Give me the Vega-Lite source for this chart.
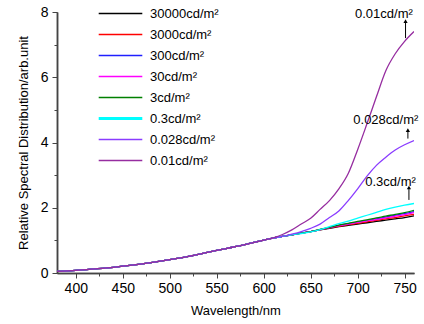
{
  "$schema": "https://vega.github.io/schema/vega-lite/v6.json",
  "width": 357,
  "height": 261,
  "autosize": {"type": "none"},
  "padding": {"left": 57, "top": 12, "right": 10, "bottom": 51},
  "config": {
    "view": {"stroke": null},
    "font": "Liberation Sans",
    "axis": {"domainColor": "#444", "tickColor": "#444", "labelColor": "#000", "titleColor": "#000", "grid": false, "labelFontWeight": "normal", "titleFontWeight": "normal"}
  },
  "datasets": {
    "curves": [
      {"s":"30000cd/m²","w":380,"v":0.05},{"s":"30000cd/m²","w":400,"v":0.08},{"s":"30000cd/m²","w":420,"v":0.125},{"s":"30000cd/m²","w":440,"v":0.175},{"s":"30000cd/m²","w":460,"v":0.24},{"s":"30000cd/m²","w":480,"v":0.32},{"s":"30000cd/m²","w":500,"v":0.41},{"s":"30000cd/m²","w":520,"v":0.51},{"s":"30000cd/m²","w":540,"v":0.63},{"s":"30000cd/m²","w":560,"v":0.75},{"s":"30000cd/m²","w":580,"v":0.87},{"s":"30000cd/m²","w":600,"v":1.01},{"s":"30000cd/m²","w":610,"v":1.07},{"s":"30000cd/m²","w":620,"v":1.12},{"s":"30000cd/m²","w":630,"v":1.17},{"s":"30000cd/m²","w":640,"v":1.22},{"s":"30000cd/m²","w":650,"v":1.27},{"s":"30000cd/m²","w":660,"v":1.32},{"s":"30000cd/m²","w":670,"v":1.37},{"s":"30000cd/m²","w":680,"v":1.42},{"s":"30000cd/m²","w":690,"v":1.46},{"s":"30000cd/m²","w":700,"v":1.5},{"s":"30000cd/m²","w":710,"v":1.54},{"s":"30000cd/m²","w":720,"v":1.58},{"s":"30000cd/m²","w":730,"v":1.62},{"s":"30000cd/m²","w":740,"v":1.66},{"s":"30000cd/m²","w":750,"v":1.7},{"s":"30000cd/m²","w":760,"v":1.75},

      {"s":"3000cd/m²","w":380,"v":0.05},{"s":"3000cd/m²","w":400,"v":0.08},{"s":"3000cd/m²","w":420,"v":0.125},{"s":"3000cd/m²","w":440,"v":0.175},{"s":"3000cd/m²","w":460,"v":0.24},{"s":"3000cd/m²","w":480,"v":0.32},{"s":"3000cd/m²","w":500,"v":0.41},{"s":"3000cd/m²","w":520,"v":0.51},{"s":"3000cd/m²","w":540,"v":0.63},{"s":"3000cd/m²","w":560,"v":0.75},{"s":"3000cd/m²","w":580,"v":0.87},{"s":"3000cd/m²","w":600,"v":1.01},{"s":"3000cd/m²","w":610,"v":1.07},{"s":"3000cd/m²","w":620,"v":1.12},{"s":"3000cd/m²","w":630,"v":1.17},{"s":"3000cd/m²","w":640,"v":1.22},{"s":"3000cd/m²","w":650,"v":1.27},{"s":"3000cd/m²","w":660,"v":1.32},{"s":"3000cd/m²","w":670,"v":1.38},{"s":"3000cd/m²","w":680,"v":1.43},{"s":"3000cd/m²","w":690,"v":1.48},{"s":"3000cd/m²","w":700,"v":1.52},{"s":"3000cd/m²","w":710,"v":1.57},{"s":"3000cd/m²","w":720,"v":1.61},{"s":"3000cd/m²","w":730,"v":1.66},{"s":"3000cd/m²","w":740,"v":1.7},{"s":"3000cd/m²","w":750,"v":1.75},{"s":"3000cd/m²","w":760,"v":1.8},

      {"s":"300cd/m²","w":380,"v":0.05},{"s":"300cd/m²","w":400,"v":0.08},{"s":"300cd/m²","w":420,"v":0.125},{"s":"300cd/m²","w":440,"v":0.175},{"s":"300cd/m²","w":460,"v":0.24},{"s":"300cd/m²","w":480,"v":0.32},{"s":"300cd/m²","w":500,"v":0.41},{"s":"300cd/m²","w":520,"v":0.51},{"s":"300cd/m²","w":540,"v":0.63},{"s":"300cd/m²","w":560,"v":0.75},{"s":"300cd/m²","w":580,"v":0.87},{"s":"300cd/m²","w":600,"v":1.01},{"s":"300cd/m²","w":610,"v":1.07},{"s":"300cd/m²","w":620,"v":1.12},{"s":"300cd/m²","w":630,"v":1.17},{"s":"300cd/m²","w":640,"v":1.22},{"s":"300cd/m²","w":650,"v":1.27},{"s":"300cd/m²","w":660,"v":1.33},{"s":"300cd/m²","w":670,"v":1.39},{"s":"300cd/m²","w":680,"v":1.46},{"s":"300cd/m²","w":690,"v":1.51},{"s":"300cd/m²","w":700,"v":1.56},{"s":"300cd/m²","w":710,"v":1.61},{"s":"300cd/m²","w":720,"v":1.66},{"s":"300cd/m²","w":730,"v":1.71},{"s":"300cd/m²","w":740,"v":1.77},{"s":"300cd/m²","w":750,"v":1.82},{"s":"300cd/m²","w":760,"v":1.88},

      {"s":"30cd/m²","w":380,"v":0.05},{"s":"30cd/m²","w":400,"v":0.08},{"s":"30cd/m²","w":420,"v":0.125},{"s":"30cd/m²","w":440,"v":0.175},{"s":"30cd/m²","w":460,"v":0.24},{"s":"30cd/m²","w":480,"v":0.32},{"s":"30cd/m²","w":500,"v":0.41},{"s":"30cd/m²","w":520,"v":0.51},{"s":"30cd/m²","w":540,"v":0.63},{"s":"30cd/m²","w":560,"v":0.75},{"s":"30cd/m²","w":580,"v":0.87},{"s":"30cd/m²","w":600,"v":1.01},{"s":"30cd/m²","w":610,"v":1.07},{"s":"30cd/m²","w":620,"v":1.12},{"s":"30cd/m²","w":630,"v":1.17},{"s":"30cd/m²","w":640,"v":1.22},{"s":"30cd/m²","w":650,"v":1.27},{"s":"30cd/m²","w":660,"v":1.33},{"s":"30cd/m²","w":670,"v":1.39},{"s":"30cd/m²","w":680,"v":1.45},{"s":"30cd/m²","w":690,"v":1.5},{"s":"30cd/m²","w":700,"v":1.55},{"s":"30cd/m²","w":710,"v":1.6},{"s":"30cd/m²","w":720,"v":1.64},{"s":"30cd/m²","w":730,"v":1.69},{"s":"30cd/m²","w":740,"v":1.74},{"s":"30cd/m²","w":750,"v":1.79},{"s":"30cd/m²","w":760,"v":1.85},

      {"s":"3cd/m²","w":380,"v":0.05},{"s":"3cd/m²","w":400,"v":0.08},{"s":"3cd/m²","w":420,"v":0.125},{"s":"3cd/m²","w":440,"v":0.175},{"s":"3cd/m²","w":460,"v":0.24},{"s":"3cd/m²","w":480,"v":0.32},{"s":"3cd/m²","w":500,"v":0.41},{"s":"3cd/m²","w":520,"v":0.51},{"s":"3cd/m²","w":540,"v":0.63},{"s":"3cd/m²","w":560,"v":0.75},{"s":"3cd/m²","w":580,"v":0.87},{"s":"3cd/m²","w":600,"v":1.01},{"s":"3cd/m²","w":610,"v":1.07},{"s":"3cd/m²","w":620,"v":1.12},{"s":"3cd/m²","w":630,"v":1.17},{"s":"3cd/m²","w":640,"v":1.22},{"s":"3cd/m²","w":650,"v":1.27},{"s":"3cd/m²","w":660,"v":1.34},{"s":"3cd/m²","w":670,"v":1.4},{"s":"3cd/m²","w":680,"v":1.47},{"s":"3cd/m²","w":690,"v":1.52},{"s":"3cd/m²","w":700,"v":1.58},{"s":"3cd/m²","w":710,"v":1.63},{"s":"3cd/m²","w":720,"v":1.69},{"s":"3cd/m²","w":730,"v":1.74},{"s":"3cd/m²","w":740,"v":1.8},{"s":"3cd/m²","w":750,"v":1.85},{"s":"3cd/m²","w":760,"v":1.92},

      {"s":"0.3cd/m²","w":380,"v":0.05},{"s":"0.3cd/m²","w":400,"v":0.08},{"s":"0.3cd/m²","w":420,"v":0.125},{"s":"0.3cd/m²","w":440,"v":0.175},{"s":"0.3cd/m²","w":460,"v":0.24},{"s":"0.3cd/m²","w":480,"v":0.32},{"s":"0.3cd/m²","w":500,"v":0.41},{"s":"0.3cd/m²","w":520,"v":0.51},{"s":"0.3cd/m²","w":540,"v":0.63},{"s":"0.3cd/m²","w":560,"v":0.75},{"s":"0.3cd/m²","w":580,"v":0.87},{"s":"0.3cd/m²","w":600,"v":1.01},{"s":"0.3cd/m²","w":610,"v":1.07},{"s":"0.3cd/m²","w":620,"v":1.12},{"s":"0.3cd/m²","w":630,"v":1.17},{"s":"0.3cd/m²","w":640,"v":1.21},{"s":"0.3cd/m²","w":650,"v":1.26},{"s":"0.3cd/m²","w":660,"v":1.33},{"s":"0.3cd/m²","w":670,"v":1.42},{"s":"0.3cd/m²","w":680,"v":1.51},{"s":"0.3cd/m²","w":690,"v":1.59},{"s":"0.3cd/m²","w":700,"v":1.68},{"s":"0.3cd/m²","w":710,"v":1.77},{"s":"0.3cd/m²","w":720,"v":1.86},{"s":"0.3cd/m²","w":730,"v":1.95},{"s":"0.3cd/m²","w":740,"v":2.02},{"s":"0.3cd/m²","w":750,"v":2.08},{"s":"0.3cd/m²","w":760,"v":2.13},

      {"s":"0.028cd/m²","w":380,"v":0.05},{"s":"0.028cd/m²","w":400,"v":0.08},{"s":"0.028cd/m²","w":420,"v":0.125},{"s":"0.028cd/m²","w":440,"v":0.175},{"s":"0.028cd/m²","w":460,"v":0.24},{"s":"0.028cd/m²","w":480,"v":0.32},{"s":"0.028cd/m²","w":500,"v":0.41},{"s":"0.028cd/m²","w":520,"v":0.51},{"s":"0.028cd/m²","w":540,"v":0.63},{"s":"0.028cd/m²","w":560,"v":0.75},{"s":"0.028cd/m²","w":580,"v":0.87},{"s":"0.028cd/m²","w":600,"v":1.01},{"s":"0.028cd/m²","w":610,"v":1.07},{"s":"0.028cd/m²","w":620,"v":1.12},{"s":"0.028cd/m²","w":630,"v":1.19},{"s":"0.028cd/m²","w":640,"v":1.27},{"s":"0.028cd/m²","w":650,"v":1.37},{"s":"0.028cd/m²","w":660,"v":1.5},{"s":"0.028cd/m²","w":670,"v":1.7},{"s":"0.028cd/m²","w":680,"v":1.9},{"s":"0.028cd/m²","w":690,"v":2.22},{"s":"0.028cd/m²","w":700,"v":2.58},{"s":"0.028cd/m²","w":710,"v":2.97},{"s":"0.028cd/m²","w":720,"v":3.3},{"s":"0.028cd/m²","w":730,"v":3.55},{"s":"0.028cd/m²","w":740,"v":3.77},{"s":"0.028cd/m²","w":750,"v":3.93},{"s":"0.028cd/m²","w":760,"v":4.06},

      {"s":"0.01cd/m²","w":380,"v":0.05},{"s":"0.01cd/m²","w":400,"v":0.08},{"s":"0.01cd/m²","w":420,"v":0.125},{"s":"0.01cd/m²","w":440,"v":0.175},{"s":"0.01cd/m²","w":460,"v":0.24},{"s":"0.01cd/m²","w":480,"v":0.32},{"s":"0.01cd/m²","w":500,"v":0.41},{"s":"0.01cd/m²","w":520,"v":0.51},{"s":"0.01cd/m²","w":540,"v":0.63},{"s":"0.01cd/m²","w":560,"v":0.75},{"s":"0.01cd/m²","w":580,"v":0.87},{"s":"0.01cd/m²","w":600,"v":1.01},{"s":"0.01cd/m²","w":610,"v":1.08},{"s":"0.01cd/m²","w":620,"v":1.18},{"s":"0.01cd/m²","w":630,"v":1.32},{"s":"0.01cd/m²","w":640,"v":1.5},{"s":"0.01cd/m²","w":650,"v":1.68},{"s":"0.01cd/m²","w":660,"v":1.95},{"s":"0.01cd/m²","w":670,"v":2.22},{"s":"0.01cd/m²","w":680,"v":2.58},{"s":"0.01cd/m²","w":690,"v":3.05},{"s":"0.01cd/m²","w":700,"v":3.78},{"s":"0.01cd/m²","w":710,"v":4.58},{"s":"0.01cd/m²","w":720,"v":5.4},{"s":"0.01cd/m²","w":730,"v":6.2},{"s":"0.01cd/m²","w":740,"v":6.72},{"s":"0.01cd/m²","w":750,"v":7.1},{"s":"0.01cd/m²","w":760,"v":7.4}
    ],
    "notes": [
      {"label":"0.01cd/m²","tw":728,"tv":7.93,"aw":751,"a1":7.2,"a2":7.72},
      {"label":"0.028cd/m²","tw":730,"tv":4.68,"aw":753.5,"a1":4.12,"a2":4.38},
      {"label":"0.3cd/m²","tw":735,"tv":2.8,"aw":754.6,"a1":2.24,"a2":2.62}
    ]
  },
  "resolve": {"axis": {"x": "independent", "y": "independent"}},
  "layer": [
    {
      "data": {"name": "curves"},
      "mark": {"type": "line", "interpolate": "monotone", "strokeWidth": 1.3, "clip": true},
      "encoding": {
        "x": {"field": "w", "type": "quantitative", "scale": {"domain": [380, 760], "nice": false, "zero": false},
          "axis": {"orient": "bottom", "title": "Wavelength/nm", "values": [400, 450, 500, 550, 600, 650, 700, 750], "tickSize": 5, "labelFontSize": 14, "labelPadding": 3, "titleFontSize": 13, "titlePadding": 9, "domainWidth": 1.5}},
        "y": {"field": "v", "type": "quantitative", "scale": {"domain": [0, 8], "nice": false},
          "axis": {"orient": "left", "title": "Relative Spectral Distribution/arb.unit", "values": [0, 2, 4, 6, 8], "tickSize": 5, "labelFontSize": 14, "labelPadding": 4, "titleFontSize": 13, "titlePadding": 10, "domainWidth": 1.5}},
        "color": {"field": "s", "type": "nominal", "sort": ["30000cd/m²", "3000cd/m²", "300cd/m²", "30cd/m²", "3cd/m²", "0.3cd/m²", "0.028cd/m²", "0.01cd/m²"],
          "scale": {"domain": ["30000cd/m²", "3000cd/m²", "300cd/m²", "30cd/m²", "3cd/m²", "0.3cd/m²", "0.028cd/m²", "0.01cd/m²"], "range": ["#000000", "#ff0000", "#2020ff", "#ff00ff", "#008000", "#00ffff", "#8a3cff", "#962da0"]},
          "legend": {"orient": "none", "legendX": 57, "legendY": -5, "title": null, "symbolType": "M-5,0H5", "symbolSize": 76, "symbolStrokeWidth": 1.5, "symbolFillColor": "transparent", "labelFontSize": 13, "labelOffset": 23, "rowPadding": 7, "padding": 0, "labelColor": "#000",
            "encode": {"symbols": {"update": {"strokeWidth": {"signal": "datum.value === '0.3cd/m²' ? 3 : 1.5"}}}}}},
        "strokeWidth": {"condition": {"test": "datum.s === '0.3cd/m²'", "value": 2.6}, "value": 1.3},
        "order": {"field": "w", "type": "quantitative"}
      }
    },
    {
      "data": {"name": "notes"},
      "mark": {"type": "text", "fontSize": 13, "align": "center", "baseline": "middle", "color": "#000"},
      "encoding": {
        "x": {"field": "tw", "type": "quantitative", "scale": {"domain": [380, 760], "nice": false, "zero": false},
          "axis": {"orient": "bottom", "title": null, "values": [425, 475, 525, 575, 625, 675, 725], "labels": false, "tickSize": 3, "domainWidth": 1.5}},
        "y": {"field": "tv", "type": "quantitative", "scale": {"domain": [0, 8], "nice": false},
          "axis": {"orient": "left", "title": null, "values": [1, 3, 5, 7], "labels": false, "tickSize": 3, "domainWidth": 1.5}},
        "text": {"field": "label"}
      }
    },
    {
      "data": {"name": "notes"},
      "mark": {"type": "rule", "color": "#000", "strokeWidth": 1},
      "encoding": {
        "x": {"field": "aw", "type": "quantitative", "axis": null},
        "y": {"field": "a1", "type": "quantitative", "axis": null},
        "y2": {"field": "a2"}
      }
    },
    {
      "data": {"name": "notes"},
      "mark": {"type": "point", "shape": "triangle-up", "filled": true, "color": "#000", "size": 18, "opacity": 1},
      "encoding": {
        "x": {"field": "aw", "type": "quantitative", "axis": null},
        "y": {"field": "a2", "type": "quantitative", "axis": null}
      }
    }
  ]
}
